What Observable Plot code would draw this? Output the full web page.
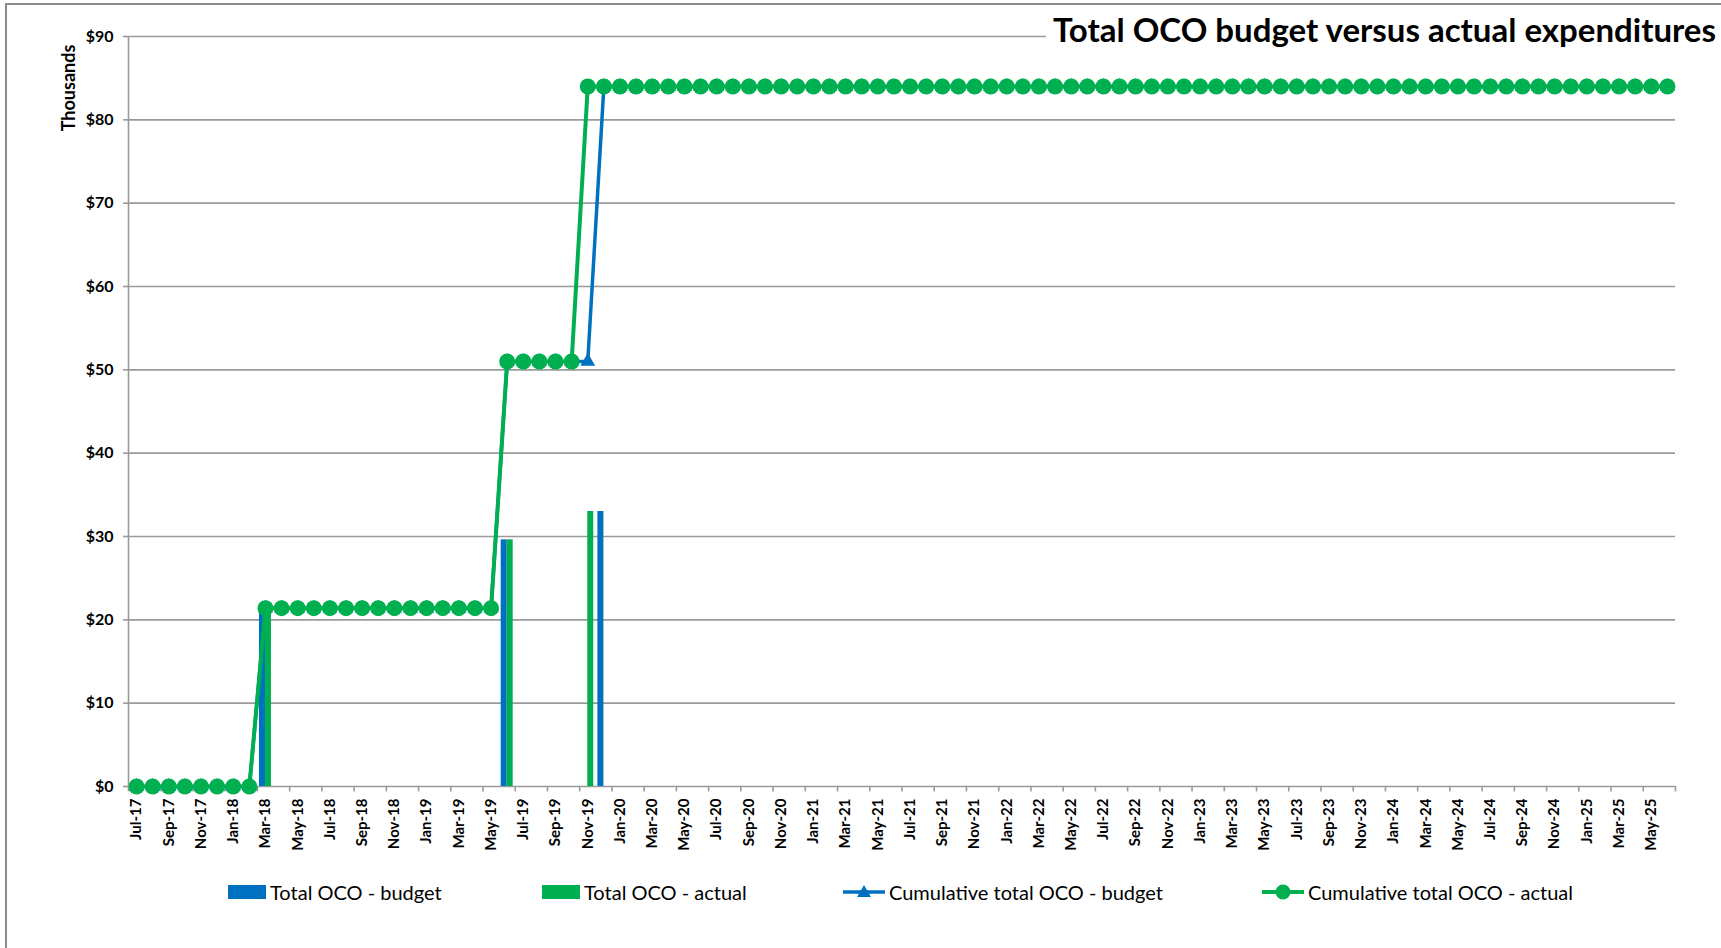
<!DOCTYPE html>
<html>
<head>
<meta charset="utf-8">
<script src="https://cdn.jsdelivr.net/npm/d3@7"></script>
<script src="https://cdn.jsdelivr.net/npm/@observablehq/plot@0.6"></script>
<style>
  html, body { margin: 0; padding: 0; background: #fff; }
  #wrap { position: relative; width: 1721px; height: 948px; overflow: hidden; font-family: Lato, "Open Sans", sans-serif; }
  #frame { position: absolute; left: 5px; top: 3px; width: 1730px; height: 960px; border-left: 2px solid #8c8c8c; border-top: 2px solid #8c8c8c; }
  #chart { position: absolute; left: 0; top: 0; }
  #title { position: absolute; left: 1046px; top: 9px; background: #fff; padding: 0 4px 0 7px; font-weight: bold; font-size: 33px; line-height: 40px; color: #000; white-space: nowrap; }
  #ylab { position: absolute; left: 68px; top: 88px; transform: translate(-50%, -50%) rotate(-90deg); font-weight: bold; font-size: 18px; color: #000; white-space: nowrap; }
  #legend { position: absolute; top: 880px; left: 0; height: 24px; width: 1721px; }
  .item { position: absolute; top: 0; display: flex; align-items: center; height: 24px; font-size: 20px; color: #000; white-space: nowrap; }
  .item svg { margin-right: 4px; }
</style>
</head>
<body>
<div id="wrap">
  <div id="frame"></div>
  <div id="chart"></div>
  <div id="title">Total OCO budget versus actual expenditures</div>
  <div id="ylab">Thousands</div>
  <div id="legend"></div>
</div>
<script>
// ---- Data (values in thousands of dollars) ----
const months = [
  "Jul-17","Aug-17","Sep-17","Oct-17","Nov-17","Dec-17",
  "Jan-18","Feb-18","Mar-18","Apr-18","May-18","Jun-18","Jul-18","Aug-18","Sep-18","Oct-18","Nov-18","Dec-18",
  "Jan-19","Feb-19","Mar-19","Apr-19","May-19","Jun-19","Jul-19","Aug-19","Sep-19","Oct-19","Nov-19","Dec-19",
  "Jan-20","Feb-20","Mar-20","Apr-20","May-20","Jun-20","Jul-20","Aug-20","Sep-20","Oct-20","Nov-20","Dec-20",
  "Jan-21","Feb-21","Mar-21","Apr-21","May-21","Jun-21","Jul-21","Aug-21","Sep-21","Oct-21","Nov-21","Dec-21",
  "Jan-22","Feb-22","Mar-22","Apr-22","May-22","Jun-22","Jul-22","Aug-22","Sep-22","Oct-22","Nov-22","Dec-22",
  "Jan-23","Feb-23","Mar-23","Apr-23","May-23","Jun-23","Jul-23","Aug-23","Sep-23","Oct-23","Nov-23","Dec-23",
  "Jan-24","Feb-24","Mar-24","Apr-24","May-24","Jun-24","Jul-24","Aug-24","Sep-24","Oct-24","Nov-24","Dec-24",
  "Jan-25","Feb-25","Mar-25","Apr-25","May-25","Jun-25"
];

const budget = [
  0,0,0,0,0,0,
  0,0,21.4,0,0,0,0,0,0,0,0,0,
  0,0,0,0,0,29.6,0,0,0,0,0,33.0,
  0,0,0,0,0,0,0,0,0,0,0,0,
  0,0,0,0,0,0,0,0,0,0,0,0,
  0,0,0,0,0,0,0,0,0,0,0,0,
  0,0,0,0,0,0,0,0,0,0,0,0,
  0,0,0,0,0,0,0,0,0,0,0,0,
  0,0,0,0,0,0
];

const actual = [
  0,0,0,0,0,0,
  0,0,21.4,0,0,0,0,0,0,0,0,0,
  0,0,0,0,0,29.6,0,0,0,0,33.0,0,
  0,0,0,0,0,0,0,0,0,0,0,0,
  0,0,0,0,0,0,0,0,0,0,0,0,
  0,0,0,0,0,0,0,0,0,0,0,0,
  0,0,0,0,0,0,0,0,0,0,0,0,
  0,0,0,0,0,0,0,0,0,0,0,0,
  0,0,0,0,0,0
];

const cumBudget = [
  0,0,0,0,0,0,
  0,0,21.4,21.4,21.4,21.4,21.4,21.4,21.4,21.4,21.4,21.4,
  21.4,21.4,21.4,21.4,21.4,51.0,51.0,51.0,51.0,51.0,51.0,84.0,
  84.0,84.0,84.0,84.0,84.0,84.0,84.0,84.0,84.0,84.0,84.0,84.0,
  84.0,84.0,84.0,84.0,84.0,84.0,84.0,84.0,84.0,84.0,84.0,84.0,
  84.0,84.0,84.0,84.0,84.0,84.0,84.0,84.0,84.0,84.0,84.0,84.0,
  84.0,84.0,84.0,84.0,84.0,84.0,84.0,84.0,84.0,84.0,84.0,84.0,
  84.0,84.0,84.0,84.0,84.0,84.0,84.0,84.0,84.0,84.0,84.0,84.0,
  84.0,84.0,84.0,84.0,84.0,84.0
];

const cumActual = [
  0,0,0,0,0,0,
  0,0,21.4,21.4,21.4,21.4,21.4,21.4,21.4,21.4,21.4,21.4,
  21.4,21.4,21.4,21.4,21.4,51.0,51.0,51.0,51.0,51.0,84.0,84.0,
  84.0,84.0,84.0,84.0,84.0,84.0,84.0,84.0,84.0,84.0,84.0,84.0,
  84.0,84.0,84.0,84.0,84.0,84.0,84.0,84.0,84.0,84.0,84.0,84.0,
  84.0,84.0,84.0,84.0,84.0,84.0,84.0,84.0,84.0,84.0,84.0,84.0,
  84.0,84.0,84.0,84.0,84.0,84.0,84.0,84.0,84.0,84.0,84.0,84.0,
  84.0,84.0,84.0,84.0,84.0,84.0,84.0,84.0,84.0,84.0,84.0,84.0,
  84.0,84.0,84.0,84.0,84.0,84.0
];

const yTicks = [0,10,20,30,40,50,60,70,80,90];
// every other month is labelled, starting with Jul-17
const labelMonths = months.filter((m, i) => i % 2 === 0);

const seriesNames = ["Total OCO - budget","Total OCO - actual","Cumulative total OCO - budget","Cumulative total OCO - actual"];
const BLUE = "#0070C0", GREEN = "#00B050", GRID = "#9a9a9a";

// ---- Build table ----
const rows = months.map((m, i) => ({m, budget: budget[i], actual: actual[i], cumBudget: cumBudget[i], cumActual: cumActual[i]}));

const W = 1721, H = 860;
const mL = 128, mR = 46, mT = 36, mB = 74;
const step = (W - mL - mR) / months.length;
const half = 6; // bar width in px

const chart = Plot.plot({
  width: W, height: H,
  marginLeft: mL, marginRight: mR, marginTop: mT, marginBottom: mB,
  style: {fontFamily: "Lato, 'Open Sans', sans-serif", color: "#000", background: "transparent", overflow: "visible"},
  x: {type: "band", domain: months, padding: 0, round: false, label: null},
  y: {domain: [0, 90], label: null},
  marks: [
    Plot.ruleY(yTicks, {stroke: GRID, strokeWidth: 1.6}),
    Plot.ruleX([months[0]], {y1: 0, y2: 90, dx: -step / 2, stroke: GRID, strokeWidth: 1.6}),
    // x tick marks at category boundaries
    Plot.ruleX(labelMonths, {x: d => d, y1: 0, y2: -0.65, dx: -step / 2, stroke: GRID, strokeWidth: 1.6}),
    Plot.ruleX([months[months.length - 1]], {y1: 0, y2: -0.65, dx: step / 2, stroke: GRID, strokeWidth: 1.6}),
    Plot.axisY({ticks: yTicks, tickSize: 5, tickPadding: 10, tickFormat: d => "$" + d, stroke: GRID, strokeWidth: 1.6, fill: "#000", fontSize: 16, fontWeight: "bold", label: null}),
    Plot.axisX({ticks: labelMonths, tickSize: 0, tickPadding: 12, tickRotate: -90, fill: "#000", fontSize: 15, fontWeight: "bold", label: null}),
    Plot.barY(rows.filter(d => d.budget > 0), {x: "m", y: "budget", fill: BLUE, insetLeft: step / 2 - half, insetRight: step / 2}),
    Plot.barY(rows.filter(d => d.actual > 0), {x: "m", y: "actual", fill: GREEN, insetLeft: step / 2, insetRight: step / 2 - half}),
    Plot.line(rows, {x: "m", y: "cumBudget", stroke: BLUE, strokeWidth: 3.5}),
    Plot.dot(rows, {x: "m", y: "cumBudget", symbol: "triangle", r: 5.5, fill: BLUE, stroke: "none"}),
    Plot.line(rows, {x: "m", y: "cumActual", stroke: GREEN, strokeWidth: 4}),
    Plot.dot(rows, {x: "m", y: "cumActual", symbol: "circle", r: 8, fill: GREEN, stroke: "none"})
  ]
});
document.getElementById("chart").appendChild(chart);

// ---- Legend ----
const legendLeft = [228, 542, 843, 1262];
const legend = document.getElementById("legend");
seriesNames.forEach((name, i) => {
  const item = document.createElement("div");
  item.className = "item";
  item.style.left = legendLeft[i] + "px";
  const color = i % 2 === 0 ? BLUE : GREEN;
  let sw;
  if (i < 2) {
    sw = `<svg width="38" height="14"><rect x="0" y="0" width="38" height="14" fill="${color}"/></svg>`;
  } else if (i === 2) {
    sw = `<svg width="42" height="18"><line x1="0" y1="9" x2="42" y2="9" stroke="${color}" stroke-width="3.5"/><path d="M21,2 L28,14 L14,14 Z" fill="${color}"/></svg>`;
  } else {
    sw = `<svg width="42" height="18"><line x1="0" y1="9" x2="42" y2="9" stroke="${color}" stroke-width="4"/><circle cx="21" cy="9" r="7.5" fill="${color}"/></svg>`;
  }
  item.innerHTML = sw + `<span>${name}</span>`;
  legend.appendChild(item);
});
</script>
</body>
</html>
